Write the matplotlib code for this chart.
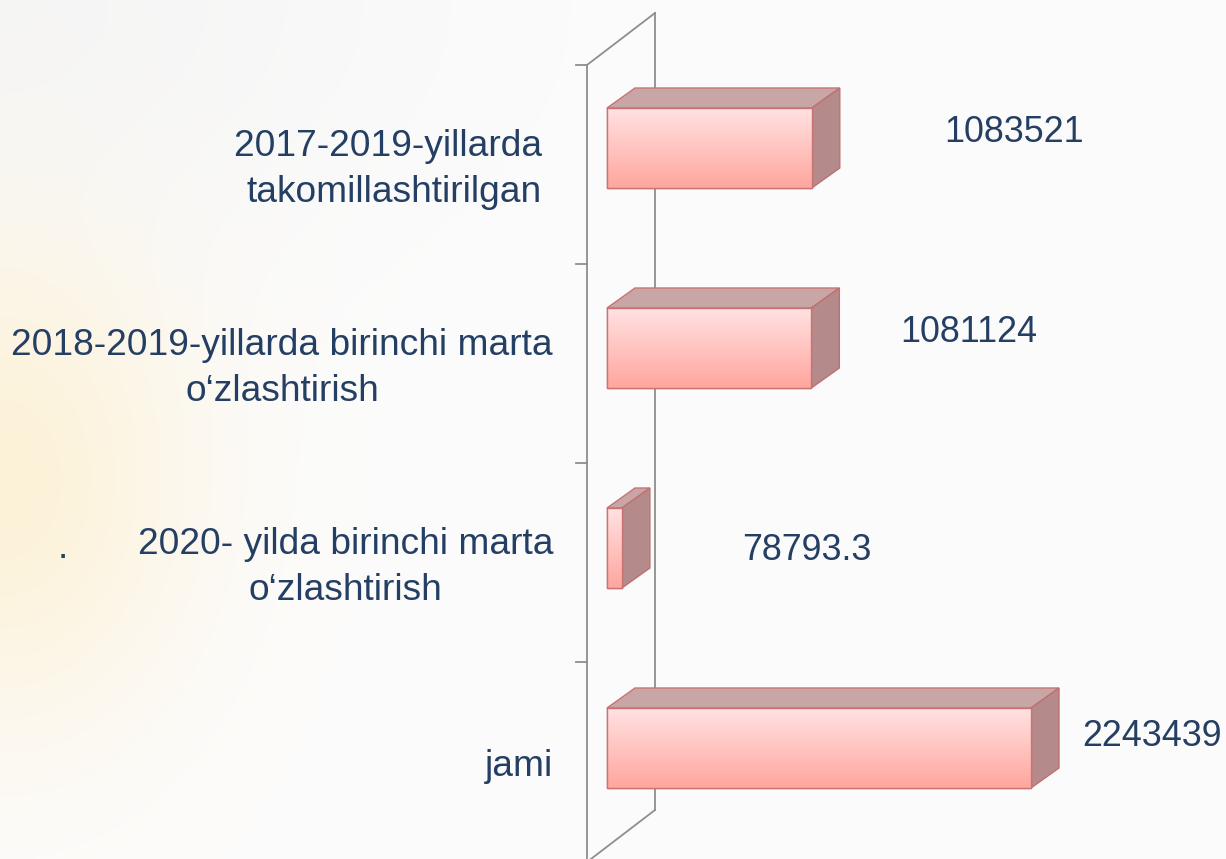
import numpy as np
import matplotlib
matplotlib.use("Agg")
import matplotlib.pyplot as plt
from matplotlib.patches import Polygon

# ---------------- data ----------------
categories = [
    "2017-2019-yillarda \ntakomillashtirilgan",
    "2018-2019-yillarda birinchi marta\no\u2018zlashtirish",
    "2020- yilda birinchi marta\no\u2018zlashtirish",
    "jami",
]
values = [1083521, 1081124, 78793.3, 2243439]

# ---------------- layout (pixels) ----------------
W, H = 1226, 859
X0_PX = 607            # pixel where value 0 lies (front face start)
S = 2243439 / 424.0    # value units per pixel
ROW0_PX, ROW_PX = 148, 200   # centre of first bar, row spacing
BAR_H = 0.40                 # bar height in row units
DX_BAR, DY_BAR = 28, -20     # bar depth offset (px)
label_left_px = [944, 900, 742, 1082]
label_y_px = [133, 332, 550, 737]
CAT_SHIFT_PX = 5
TXT = "#243f63"
FONT = "Liberation Sans"
CAT_FS = 26.7
VAL_FS = 25.8

def px2x(p):
    return (p - X0_PX) * S

def py2y(p):
    return (p - ROW0_PX) / ROW_PX

fig = plt.figure(figsize=(W / 100, H / 100), dpi=100)

# background gradient
bg = fig.add_axes([0, 0, 1, 1])
bg.set_axis_off()
yy, xx = np.mgrid[0:H:4, 0:W:4]
base = np.ones((yy.shape[0], yy.shape[1], 3)) * np.array([252, 252, 252]) / 255
gray = np.exp(-((xx / 420.0) ** 2 + (yy / 260.0) ** 2))[..., None]
base = base * (1 - 0.45 * gray) + np.array([238, 238, 238]) / 255 * 0.45 * gray
glow = np.exp(-(((xx) / 190.0) ** 2 + ((yy - 480) / 250.0) ** 2))[..., None]
base = base * (1 - 0.9 * glow) + np.array([253, 241, 212]) / 255 * 0.9 * glow
bg.imshow(base, extent=[0, W, H, 0], aspect="auto", interpolation="bilinear")
bg.set_xlim(0, W)
bg.set_ylim(H, 0)

ax = fig.add_axes([0, 0, 1, 1])
ax.patch.set_alpha(0)
ax.set_axis_off()
XL = (px2x(0), px2x(W))
YL = (py2y(H), py2y(0))

# wall
wall_c = "#8e8e8e"
fx, bx = px2x(587), px2x(655)
ax.plot([fx, fx], [py2y(65), py2y(862)], color=wall_c, lw=1.3, zorder=1)
ax.plot([bx, bx], [py2y(13), py2y(810)], color=wall_c, lw=1.3, zorder=1)
ax.plot([fx, bx], [py2y(65), py2y(13)], color=wall_c, lw=1.3, zorder=1)
ax.plot([fx, bx], [py2y(862), py2y(810)], color=wall_c, lw=1.3, zorder=1)
n = len(categories)
tick_y = [py2y(65) + i * (py2y(264) - py2y(65)) for i in range(n + 1)]
for ty in tick_y:
    ax.plot([px2x(576), fx], [ty, ty], color=wall_c, lw=1.3, zorder=1)

# bars
ypos = np.arange(n)
bars = ax.barh(ypos, values, height=BAR_H, left=0, color="#ffc4c2",
               edgecolor="#c87474", linewidth=1.0, zorder=3)
grad = np.linspace(0, 1, 64)[:, None]
c_top = np.array([255, 226, 226]) / 255
c_bot = np.array([255, 166, 158]) / 255
front_img = c_top[None, None, :] * (1 - grad[..., None]) + c_bot[None, None, :] * grad[..., None]
front_img = np.repeat(front_img, 4, axis=1)
ddx, ddy = DX_BAR * S, DY_BAR / ROW_PX
for b, v, y in zip(bars, values, ypos):
    y0, y1 = y - BAR_H / 2, y + BAR_H / 2  # y0 = top (inverted axis)
    im = ax.imshow(front_img, extent=[0, v, y1, y0], aspect="auto",
                   interpolation="bilinear", zorder=3)
    im.set_clip_path(b)
    top = Polygon([(0, y0), (ddx, y0 + ddy), (v + ddx, y0 + ddy), (v, y0)],
                  closed=True, facecolor="#c8a6a6", edgecolor="#c87474",
                  linewidth=1.0, zorder=2)
    side = Polygon([(v, y0), (v + ddx, y0 + ddy), (v + ddx, y1 + ddy), (v, y1)],
                   closed=True, facecolor="#b58a8a", edgecolor="#c07070",
                   linewidth=1.0, zorder=2)
    ax.add_patch(top)
    ax.add_patch(side)
    ax.plot([0, v, v, 0, 0], [y0, y0, y1, y1, y0], color="#c87474", lw=1.0, zorder=4)

# category labels
shift = CAT_SHIFT_PX / ROW_PX
for i, lab in enumerate(categories):
    yc = (tick_y[i] + tick_y[i + 1]) / 2 + shift
    ax.text(px2x(553), yc, lab, ha="right", va="center", multialignment="center",
            fontsize=CAT_FS, color=TXT, family=FONT, linespacing=1.40, zorder=5)
ax.text(px2x(63), py2y(548), ".", ha="center", va="center", fontsize=CAT_FS,
        color=TXT, family=FONT, zorder=5)

# value labels
def fmt(v):
    return str(int(v)) if float(v).is_integer() else str(v)

for v, lx, ly in zip(values, label_left_px, label_y_px):
    ax.text(px2x(lx), py2y(ly), fmt(v), ha="left", va="center", fontsize=VAL_FS,
            color=TXT, family=FONT, zorder=5)

ax.set_xlim(*XL)
ax.set_ylim(YL[0], YL[1])

fig.savefig("out.png", dpi=100)
